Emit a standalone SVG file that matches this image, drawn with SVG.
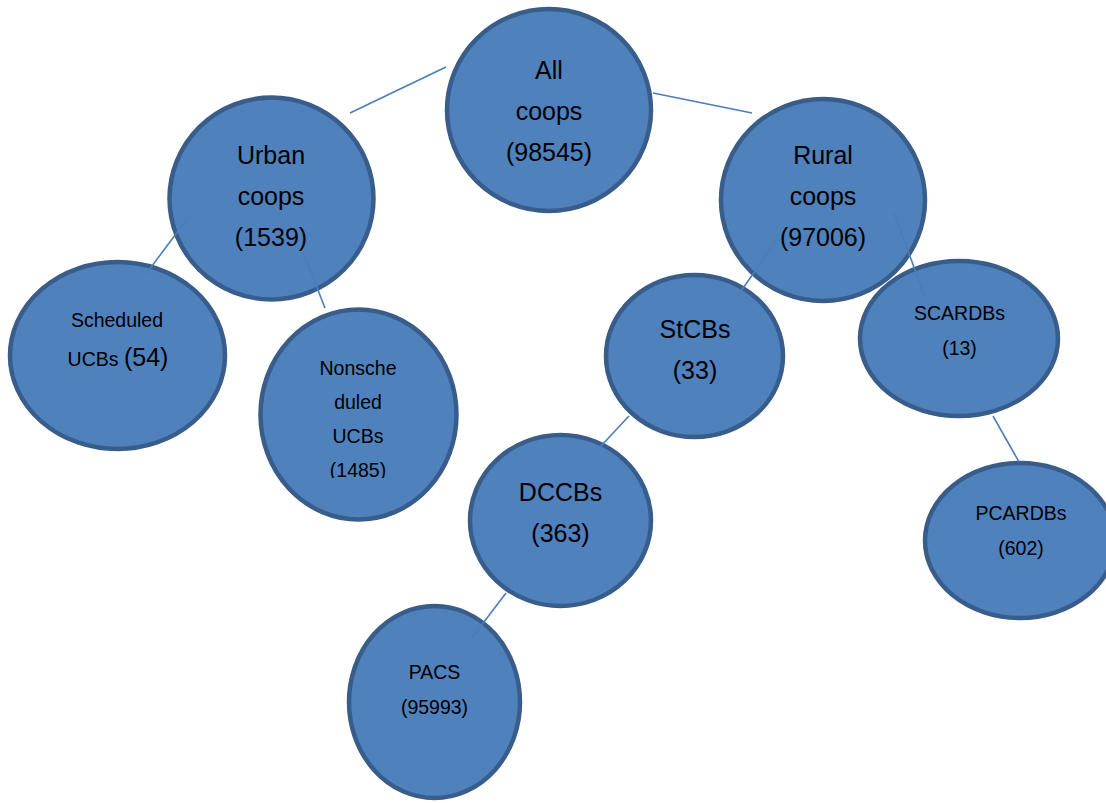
<svg xmlns="http://www.w3.org/2000/svg" width="1106" height="803" viewBox="0 0 1106 803">
<style>
.node{fill:#4f81bd;stroke:#385d8a;stroke-width:4.5}
.big{font-family:"Liberation Sans",Arial,sans-serif;font-size:25px;fill:#000;text-anchor:middle}
.small{font-family:"Liberation Sans",Arial,sans-serif;font-size:19.5px;fill:#000;text-anchor:middle}
.edge{stroke:#4a7ebb;stroke-width:1.6;fill:none}
</style>
<defs>
<clipPath id="clipNon"><rect x="250" y="300" width="220" height="178"/></clipPath>
</defs>
<rect width="1106" height="803" fill="#fff"/>
<g id="all"><ellipse class="node" cx="549" cy="110" rx="102" ry="101"/>
<text class="big" x="549" y="79">All</text><text class="big" x="549" y="120">coops</text><text class="big" x="549" y="161">(98545)</text></g>
<g id="urban"><ellipse class="node" cx="271.5" cy="198.5" rx="102" ry="101"/>
<text class="big" x="271" y="164">Urban</text><text class="big" x="271" y="205">coops</text><text class="big" x="271" y="246">(1539)</text></g>
<g id="rural"><ellipse class="node" cx="823" cy="200" rx="102" ry="101"/>
<text class="big" x="823" y="164">Rural</text><text class="big" x="823" y="205">coops</text><text class="big" x="823" y="246">(97006)</text></g>
<g id="scheduled"><ellipse class="node" cx="117.5" cy="355.5" rx="107.5" ry="93.5"/>
<text class="small" x="117" y="327">Scheduled</text><text class="small" x="118" y="366">UCBs <tspan style="font-size:25px">(54)</tspan></text></g>
<g id="nonscheduled"><ellipse class="node" cx="358.5" cy="414.5" rx="98" ry="105"/>
<g clip-path="url(#clipNon)"><text class="small" x="358" y="375">Nonsche</text><text class="small" x="358" y="409">duled</text><text class="small" x="358" y="443">UCBs</text><text class="small" x="358" y="477">(1485)</text></g></g>
<g id="stcbs"><ellipse class="node" cx="694.5" cy="356" rx="88.5" ry="81"/>
<text class="big" x="695" y="338">StCBs</text><text class="big" x="695" y="379">(33)</text></g>
<g id="scardbs"><ellipse class="node" cx="959" cy="338.5" rx="99" ry="77.5"/>
<text class="small" x="959.5" y="320">SCARDBs</text><text class="small" x="959.5" y="355">(13)</text></g>
<g id="dccbs"><ellipse class="node" cx="560.5" cy="520.5" rx="90.5" ry="85.5"/>
<text class="big" x="560.5" y="501">DCCBs</text><text class="big" x="560.5" y="542">(363)</text></g>
<g id="pacs"><ellipse class="node" cx="434.5" cy="702" rx="85.5" ry="96"/>
<text class="small" x="434.5" y="679">PACS</text><text class="small" x="434.5" y="714">(95993)</text></g>
<g id="pcardbs"><ellipse class="node" cx="1020" cy="540.5" rx="95" ry="77.5"/>
<text class="small" x="1021" y="520">PCARDBs</text><text class="small" x="1021" y="555">(602)</text></g>
<g id="connectors">
<line class="edge" x1="446" y1="67" x2="350" y2="113"/>
<line class="edge" x1="653" y1="93" x2="752" y2="113"/>
<line class="edge" x1="190" y1="215" x2="146" y2="274"/>
<line class="edge" x1="303" y1="252" x2="325" y2="308"/>
<line class="edge" x1="778" y1="238" x2="737" y2="297"/>
<line class="edge" x1="894" y1="213" x2="925" y2="297"/>
<line class="edge" x1="629" y1="416" x2="600" y2="447"/>
<line class="edge" x1="506" y1="593" x2="471" y2="639"/>
<line class="edge" x1="993" y1="416" x2="1019" y2="462"/>
</g>
</svg>
